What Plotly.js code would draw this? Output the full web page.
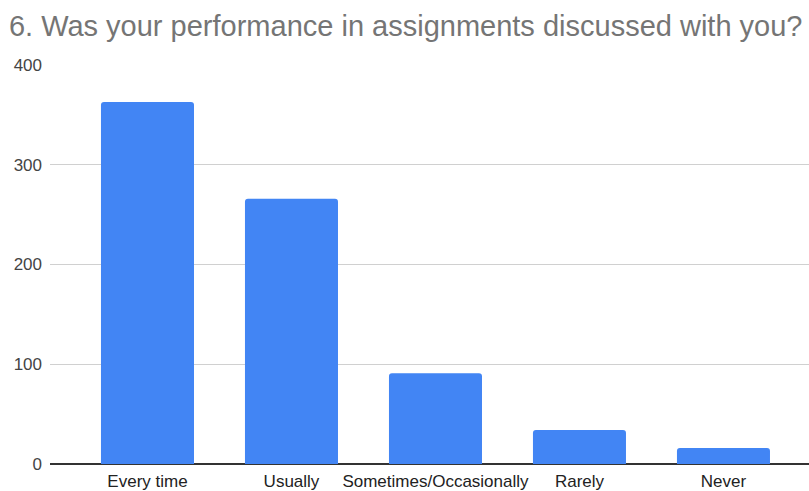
<!DOCTYPE html>
<html>
<head>
<meta charset="utf-8">
<script src="https://cdn.plot.ly/plotly-3.0.1.min.js"></script>
<style>html,body{margin:0;padding:0;background:#fff;}#chart{width:809px;height:491px;}</style>
</head>
<body>
<div id="chart"></div>
<script>
var categories = ["Every time", "Usually", "Sometimes/Occasionally", "Rarely", "Never"];
var counts = [363, 266, 91, 34, 16];
var yTicks = [0, 100, 200, 300, 400];
var chartTitle = "6. Was your performance in assignments discussed with you?";

var trace = {
  type: "bar",
  x: categories,
  y: counts,
  marker: {color: "#4285F4", cornerradius: 3},
  hoverinfo: "x+y"
};

var layout = {
  width: 809,
  height: 491,
  paper_bgcolor: "#ffffff",
  plot_bgcolor: "#ffffff",
  margin: {l: 50, r: 0, t: 65, b: 27},
  bargap: 0.354,
  showlegend: false,
  font: {family: "Liberation Sans, Arial, sans-serif", color: "#222222"},
  title: {
    text: chartTitle,
    font: {family: "Liberation Sans, Arial, sans-serif", size: 29, color: "#757575"},
    xref: "container", x: 0.011, xanchor: "left",
    yref: "container", y: 0.948, yanchor: "middle"
  },
  xaxis: {
    type: "category",
    range: [-0.677, 4.594],
    showgrid: false,
    showline: false,
    zeroline: false,
    ticks: "",
    tickfont: {size: 17, color: "#222222"},
    ticklabelstandoff: 5,
    fixedrange: true
  },
  yaxis: {
    range: [0, 400],
    tickvals: yTicks,
    ticktext: yTicks.map(String),
    showgrid: true,
    gridcolor: "#d0d0d0",
    gridwidth: 1,
    zeroline: true,
    zerolinecolor: "#333333",
    zerolinewidth: 2,
    showline: false,
    ticks: "",
    tickfont: {size: 17, color: "#444444"},
    ticklabelstandoff: 7,
    fixedrange: true
  }
};

Plotly.newPlot("chart", [trace], layout, {displayModeBar: false, staticPlot: true});
</script>
</body>
</html>
